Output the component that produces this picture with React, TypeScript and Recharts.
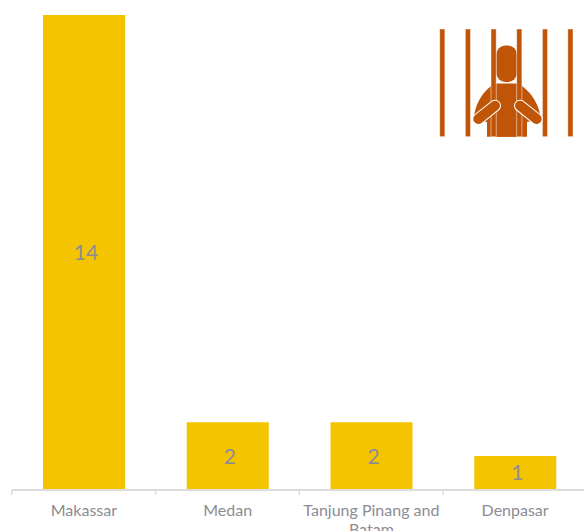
import { BarChart, Bar, XAxis, YAxis, LabelList, Text } from "recharts"

const cities = ["Makassar", "Medan", "Tanjung Pinang and Batam", "Denpasar"]
const counts = [14, 2, 2, 1]

const chartData = cities.map((city, i) => ({ city, count: counts[i] }))

const barColor = "#f5c400"
const textColor = "#8c8c94"
const axisColor = "#dcdcdc"
const iconColor = "#c05508"
const font = "Lato, sans-serif"

const cellBars = [442.3, 467.9, 493.6, 519.3, 545, 570.4]

function CityTick({ x, y, payload }: any) {
  return (
    <g>
      <line x1={x - 72} x2={x - 72} y1={490} y2={495} stroke={axisColor} strokeWidth={1.5} />
      <Text
        x={x}
        y={y}
        width={144}
        textAnchor="middle"
        verticalAnchor="start"
        lineHeight="19px"
        fontSize={16}
        fontFamily={font}
        fill={textColor}
      >
        {payload.value}
      </Text>
    </g>
  )
}

function PrisonerIcon() {
  return (
    <svg width={584} height={531} style={{ position: "absolute", left: 0, top: 0 }}>
      <rect x={496.3} y={45.5} width={20.7} height={36.5} rx={9} fill={iconColor} />
      <path
        d="M491 86 Q476 98 473.5 119 L487 122 L487 136.7 L527 136.7 L527 122 L541 119 Q538 98 522 86 Z"
        fill={iconColor}
      />
      <rect x={496} y={83.5} width={21} height={53.2} fill={iconColor} />
      {cellBars.map((x) => (
        <rect key={x} x={x - 2.6} y={29} width={5.2} height={107.7} fill={iconColor} stroke="#fff" strokeOpacity={0.6} strokeWidth={0.8} />
      ))}
      <line x1={495} y1={105.7} x2={478.3} y2={119} stroke="#fff" strokeWidth={12} strokeLinecap="round" />
      <line x1={495} y1={105.7} x2={478.3} y2={119} stroke={iconColor} strokeWidth={10} strokeLinecap="round" />
      <line x1={520} y1={105.7} x2={536.7} y2={119} stroke="#fff" strokeWidth={12} strokeLinecap="round" />
      <line x1={520} y1={105.7} x2={536.7} y2={119} stroke={iconColor} strokeWidth={10} strokeLinecap="round" />
    </svg>
  )
}

export default function App() {
  return (
    <div style={{ position: "absolute", left: 0, top: 0, width: 584, height: 531, overflow: "hidden", background: "#fff" }}>
      <BarChart
        width={599}
        height={531}
        data={chartData}
        margin={{ top: 15, right: 12, bottom: 0, left: 12 }}
      >
        <XAxis
          dataKey="city"
          interval={0}
          height={41}
          stroke={axisColor}
          strokeWidth={2}
          tickLine={false}
          tick={<CityTick />}
          tickMargin={9}
        />
        <YAxis hide domain={[0, 14]} />
        <Bar dataKey="count" fill={barColor} barSize={82} isAnimationActive={false}>
          <LabelList
            dataKey="count"
            position="center"
            dx={2}
            fontSize={21}
            fontFamily={font}
            fill={textColor}
          />
        </Bar>
      </BarChart>
      <PrisonerIcon />
    </div>
  )
}
